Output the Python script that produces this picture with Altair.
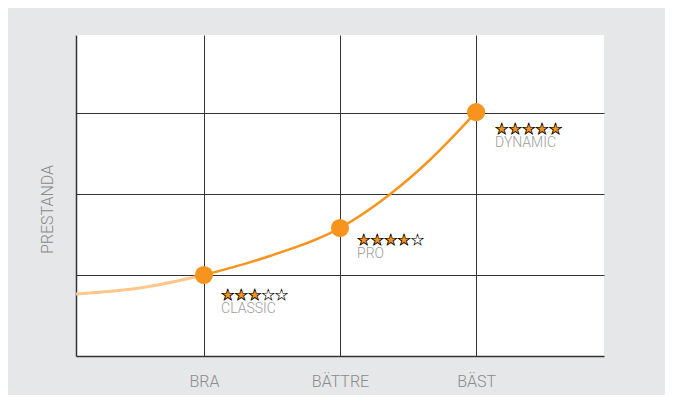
import altair as alt
import pandas as pd

# ---- data ----
levels = ["BRA", "BÄTTRE", "BÄST"]
level_x = [1, 2, 3]
products = ["CLASSIC", "PRO", "DYNAMIC"]
perf = [1.0, 1.58, 3.01]
ratings = [3, 4, 5]
star_x = [1.126, 2.125, 3.139]
star_y = [0.753, 1.432, 2.80]
label_y = [0.58, 1.26, 2.63]

curve_light_x = [0.06, 0.53, 1.0]
curve_light_y = [0.765, 0.84, 1.0]
curve_x = [1.0, 1.485, 2.0, 2.37, 2.66, 3.0]
curve_y = [1.0, 1.235, 1.58, 2.0, 2.42, 3.01]

ORANGE = "#f7941d"
LIGHT = "#fdc78a"
FONT = "Roboto"

pts = pd.DataFrame({"x": level_x, "y": perf, "product": products})
lab = pd.DataFrame({
    "x": star_x, "sy": star_y, "ly": label_y, "product": products,
    "full": ["★" * 5] * 3, "filled": ["★" * r for r in ratings],
})
light = pd.DataFrame({"x": curve_light_x, "y": curve_light_y})
dark = pd.DataFrame({"x": curve_x, "y": curve_y})

label_expr = " : ".join(
    f"datum.value == {v} ? '{n}'" for v, n in zip(level_x[:-1], levels[:-1])
) + f" : '{levels[-1]}'"

xs = alt.Scale(domain=[0.06, 3.94], nice=False, zero=False)
ys = alt.Scale(domain=[0, 3.963], nice=False, zero=False)

x_axis = alt.Axis(values=level_x, labelExpr=label_expr, title=None, grid=True,
                  gridColor="#333333", gridWidth=1, gridOpacity=1,
                  ticks=False, domainColor="#333333", domainWidth=1.5,
                  labelFont=FONT, labelFontSize=16, labelFontWeight=300,
                  labelColor="#8a8a8a", labelPadding=17, labelBaseline="top")
y_axis = alt.Axis(values=[1, 2, 3], labels=False, ticks=False, grid=True,
                  gridColor="#333333", gridWidth=1, gridOpacity=1,
                  domainColor="#333333", domainWidth=1.5,
                  title="PRESTANDA", titleFont=FONT, titleFontSize=16,
                  titleFontWeight=300, titleColor="#8a8a8a",
                  titleAngle=-90, titleAlign="center", titleBaseline="middle",
                  titleX=-29, titleY=174)


def X(field):
    return alt.X(f"{field}:Q", scale=xs, axis=x_axis)


def Y(field):
    return alt.Y(f"{field}:Q", scale=ys, axis=y_axis)


base_light = alt.Chart(light).mark_line(color=LIGHT, strokeWidth=3,
                                         interpolate="monotone").encode(
    x=X("x"), y=Y("y"))
line_dark = alt.Chart(dark).mark_line(color=ORANGE, strokeWidth=2.5,
                                       interpolate="monotone").encode(
    x=X("x"), y=Y("y"))
points = alt.Chart(pts).mark_circle(color=ORANGE, size=330, opacity=1).encode(
    x=X("x"), y=Y("y"))
stars_empty = alt.Chart(lab).mark_text(
    align="left", baseline="middle", font="DejaVu Sans", fontSize=15,
    fill="white", stroke="black", strokeWidth=0.6).encode(
    x=X("x"), y=Y("sy"), text="full:N")
stars_full = alt.Chart(lab).mark_text(
    align="left", baseline="middle", font="DejaVu Sans", fontSize=15,
    fill=ORANGE, stroke="black", strokeWidth=0.6).encode(
    x=X("x"), y=Y("sy"), text="filled:N")
names = alt.Chart(lab).mark_text(
    align="left", baseline="middle", font=FONT, fontSize=14, fontWeight=300,
    color="#9d9d9d").encode(
    x=X("x"), y=Y("ly"), text="product:N")

chart = alt.layer(base_light, line_dark, points, stars_empty, stars_full, names).properties(
    width=528, height=321,
    autosize=alt.AutoSizeParams(type="none"),
    padding={"left": 68, "top": 27, "right": 61, "bottom": 39},
    background="#e6e7e8",
).configure_view(fill="white", stroke=None)

chart.save("out.html", embed_options={"renderer": "svg", "actions": False})
